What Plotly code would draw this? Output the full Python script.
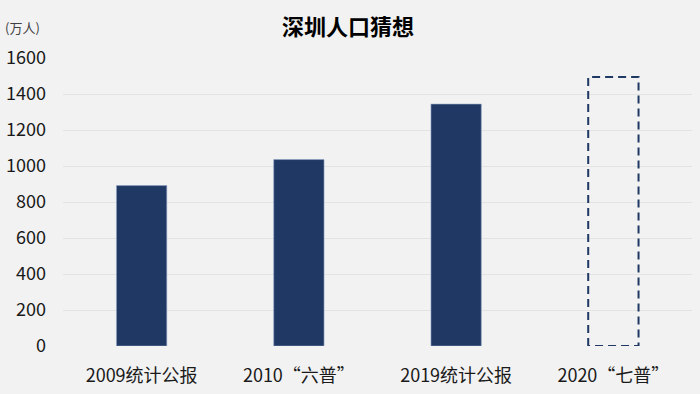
import plotly.graph_objects as go

categories = ["2009统计公报", "2010“六普”", "2019统计公报", "2020“七普”"]
actual_values = [891.23, 1035.79, 1343.88]
guess_value = 1495
y_ticks = [0, 200, 400, 600, 800, 1000, 1200, 1400, 1600]

NAVY = "#1f3864"
BAR_W = 0.32
FONT = "Noto Sans CJK SC"

xs = list(range(len(categories)))

fig = go.Figure()
fig.add_trace(go.Bar(
    x=xs[:len(actual_values)], y=actual_values, width=BAR_W,
    marker=dict(color=NAVY, line=dict(color="#8fa2c4", width=0.6)),
    hoverinfo="y", showlegend=False,
))
gi = xs[len(actual_values)]
fig.add_trace(go.Scatter(
    x=[gi - BAR_W / 2, gi - BAR_W / 2, gi + BAR_W / 2, gi + BAR_W / 2, gi - BAR_W / 2],
    y=[0, guess_value, guess_value, 0, 0],
    mode="lines", line=dict(color=NAVY, width=2, dash="8px,5px"),
    hoverinfo="skip", showlegend=False,
))

fig.update_layout(
    width=700, height=394,
    paper_bgcolor="#f2f2f2", plot_bgcolor="#f2f2f2",
    margin=dict(l=63, r=8, t=58, b=48),
    title=dict(text="<b>深圳人口猜想</b>", x=0.497, xanchor="center", y=0.93, yanchor="middle",
               font=dict(family=FONT, size=22, color="#000000")),
    font=dict(family=FONT, color="#000000"),
    xaxis=dict(range=[-0.5, len(categories) - 0.5], tickvals=xs, ticktext=categories,
               showgrid=False, zeroline=False, showline=False, ticks="", automargin=False,
               tickfont=dict(size=18, color="#1a1a1a"), ticklabelstandoff=17),
    yaxis=dict(range=[0, 1600], tickvals=y_ticks, showgrid=True, gridcolor="#e3e3e3", gridwidth=1,
               zeroline=False, showline=False, ticks="", automargin=False,
               tickfont=dict(size=18, color="#1a1a1a"), ticklabelstandoff=16),
    annotations=[dict(text="(万人)", xref="paper", yref="paper", x=-60/629, y=1 + (58-27)/288,
                      xanchor="left", yanchor="middle", showarrow=False,
                      font=dict(family=FONT, size=13, color="#404040"))],
)

fig.write_html("out.html")
